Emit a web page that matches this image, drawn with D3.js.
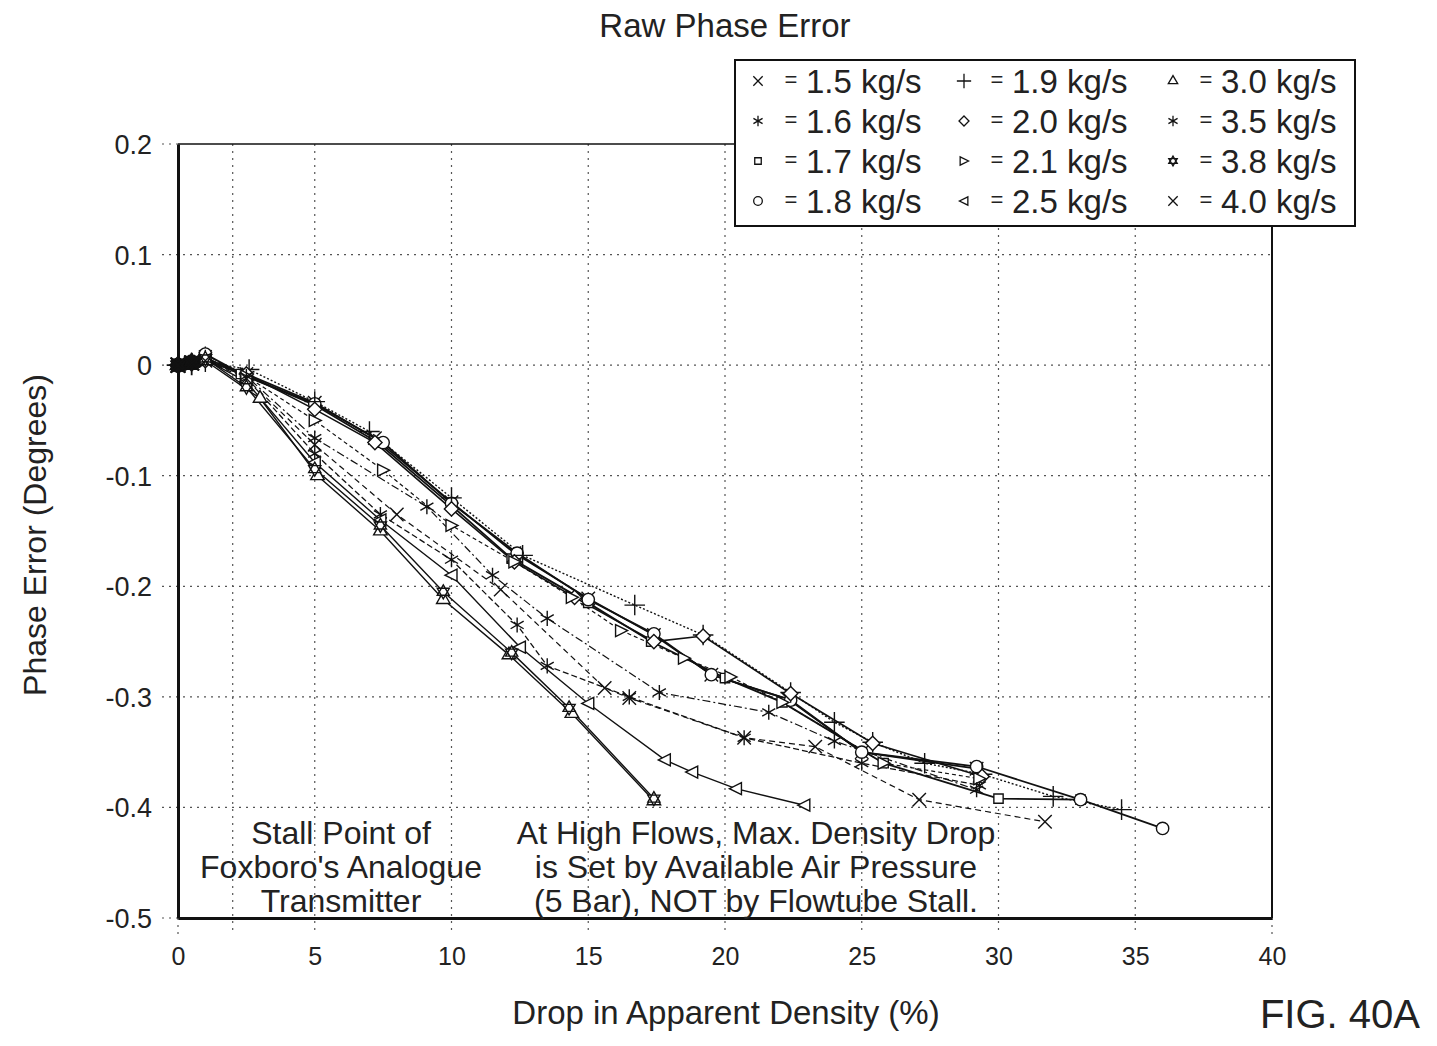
<!DOCTYPE html>
<html><head><meta charset="utf-8">
<script src="https://cdn.jsdelivr.net/npm/d3@7"></script>
<style>
html,body{margin:0;padding:0;background:#fff;}
text{font-family:"Liberation Sans",Arial,sans-serif;fill:#222;}
</style></head>
<body>
<svg id="chart" width="1437" height="1046"></svg>
<script>
// ---------- data ----------
const xTicks = [0,5,10,15,20,25,30,35,40];
const yTicks = [0.2,0.1,0,-0.1,-0.2,-0.3,-0.4,-0.5];
const xGrid = [2,5,10,15,20,25,30,35];
const yGrid = [0.1,0,-0.1,-0.2,-0.3,-0.4];
const flowLabels = ["1.5 kg/s","1.6 kg/s","1.7 kg/s","1.8 kg/s","1.9 kg/s","2.0 kg/s","2.1 kg/s","2.5 kg/s","3.0 kg/s","3.5 kg/s","3.8 kg/s","4.0 kg/s"];

const s15 = [[0,0],[0.5,0.002],[1,0.006],[2.5,-0.008],[5,-0.034],[7.2,-0.066],[10,-0.124],[12.3,-0.17],[15,-0.211],[17.4,-0.244],[19.5,-0.28],[22.3,-0.302],[25,-0.35],[29.2,-0.365]];
const s16 = [[0,0],[0.5,0.003],[1,0.01],[2.5,-0.012],[5,-0.08],[7.4,-0.135],[10,-0.176],[12.4,-0.235],[13.5,-0.272],[16.5,-0.3],[20.7,-0.337],[25,-0.36],[29.3,-0.38]];
const s17 = [[0,0],[0.5,0.001],[1,0.005],[2.3,-0.008],[5,-0.036],[7.3,-0.07],[10,-0.127],[12.2,-0.175],[15,-0.215],[17.3,-0.25],[20,-0.283],[22.1,-0.305],[25.8,-0.36],[30,-0.392],[33,-0.393]];
const s18 = [[0,0],[0.5,0.003],[1,0.01],[2.5,-0.01],[5,-0.035],[7.5,-0.07],[10,-0.125],[12.4,-0.17],[15,-0.212],[17.4,-0.243],[19.5,-0.28],[22.4,-0.303],[25,-0.35],[29.2,-0.363],[33,-0.393],[36,-0.419]];
const s19 = [[0,0],[0.5,0.001],[1,0.003],[2.6,-0.004],[5,-0.033],[7,-0.06],[10,-0.12],[12.6,-0.172],[16.7,-0.217],[19.2,-0.244],[22.4,-0.296],[24,-0.323],[25.4,-0.341],[27.3,-0.36],[29.4,-0.37],[32,-0.39],[34.5,-0.402]];
const s20 = [[0,0],[0.5,0.002],[1,0.004],[2.5,-0.008],[5,-0.04],[7.2,-0.07],[10,-0.13],[12.3,-0.178],[14.5,-0.21],[17.4,-0.25],[19.2,-0.245],[22.4,-0.297],[25.4,-0.342],[29.4,-0.372]];
const s21 = [[0,0],[0.5,0.002],[1,0.004],[2.5,-0.01],[5,-0.05],[7.5,-0.095],[10,-0.145],[12.3,-0.178],[14.4,-0.21],[16.2,-0.24],[18.5,-0.265],[20.2,-0.282],[22.1,-0.305],[25.8,-0.36],[29.3,-0.374]];
const s25 = [[0,0],[0.5,0.002],[1,0.005],[2.5,-0.015],[5,-0.088],[7.4,-0.14],[10,-0.19],[12.5,-0.255],[15,-0.306],[17.8,-0.357],[18.8,-0.368],[20.4,-0.383],[22.9,-0.398]];
const s30 = [[0,0],[0.5,0.002],[1,0.004],[3,-0.03],[5.1,-0.1],[7.4,-0.15],[9.7,-0.212],[12.1,-0.262],[14.4,-0.315],[17.4,-0.394]];
const s35 = [[0,0],[0.5,0.003],[1,0.007],[2.5,-0.01],[5,-0.066],[9.1,-0.128],[11.5,-0.19],[13.5,-0.229],[17.6,-0.296],[21.6,-0.314],[24,-0.34],[29.2,-0.384]];
const s38 = [[0,0],[0.5,0.003],[1,0.006],[2.5,-0.02],[5,-0.094],[7.4,-0.145],[9.7,-0.205],[12.2,-0.26],[14.3,-0.31],[17.4,-0.392]];
const s40 = [[0,0],[0.5,0.002],[1,0.004],[2.5,-0.012],[5,-0.072],[8,-0.135],[11.8,-0.203],[15.6,-0.292],[16.5,-0.301],[20.7,-0.337],[23.3,-0.345],[27.1,-0.393],[31.7,-0.413]];

const seriesData = [s15,s16,s17,s18,s19,s20,s21,s25,s30,s35,s38,s40];

// ---------- styles ----------
const markerKinds = ["times","filled","square","circle","plus","diamond","right","left","triangle","asterisk","hexagram","times"];
const dashes = [null,"6,3",null,null,"2,2",null,"4,3",null,null,"8,3,2,3",null,"6,4"];
const widths = [1.8,1.3,1.8,1.8,1.4,1.6,1.2,1.4,1.4,1.2,1.4,1.2];
const FONT = "Liberation Sans, Arial, sans-serif";

const svg = d3.select("#chart");
const x = d3.scaleLinear().domain([0,40]).range([178,1272]);
const y = d3.scaleLinear().domain([-0.5,0.2]).range([918,144]);

// title
svg.append("text").attr("x",725).attr("y",37).attr("text-anchor","middle").attr("font-size",33).text("Raw Phase Error");

// grid
svg.append("g").selectAll("line").data(xGrid).join("line")
  .attr("x1",d=>x(d)).attr("x2",d=>x(d)).attr("y1",y(0.2)).attr("y2",y(-0.5)+16)
  .attr("stroke","#555").attr("stroke-width",1.2).attr("stroke-dasharray","2,5");
svg.append("g").selectAll("line").data(yGrid).join("line")
  .attr("x1",x(0)-16).attr("x2",x(40)).attr("y1",d=>y(d)).attr("y2",d=>y(d))
  .attr("stroke","#555").attr("stroke-width",1.2).attr("stroke-dasharray","2,5");
svg.append("g").selectAll("line").data([0.2,-0.5]).join("line")
  .attr("x1",x(0)-16).attr("x2",x(0)).attr("y1",d=>y(d)).attr("y2",d=>y(d))
  .attr("stroke","#555").attr("stroke-width",1.2).attr("stroke-dasharray","2,5");
svg.append("g").selectAll("line").data([0,40]).join("line")
  .attr("x1",d=>x(d)).attr("x2",d=>x(d)).attr("y1",y(-0.5)).attr("y2",y(-0.5)+16)
  .attr("stroke","#555").attr("stroke-width",1.2).attr("stroke-dasharray","2,5");

// frame
svg.append("line").attr("x1",x(0)).attr("x2",x(40)).attr("y1",y(0.2)).attr("y2",y(0.2)).attr("stroke","#111").attr("stroke-width",1.5);
svg.append("line").attr("x1",x(40)).attr("x2",x(40)).attr("y1",y(0.2)).attr("y2",y(-0.5)).attr("stroke","#111").attr("stroke-width",2);

// axes via d3
const xAxis = d3.axisBottom(x).tickValues(xTicks).tickSize(0).tickPadding(29).tickFormat(d3.format("d"));
const yAxis = d3.axisLeft(y).tickValues(yTicks).tickSize(0).tickPadding(26)
  .tickFormat(d=>d===0?"0":d.toFixed(1));
const gx = svg.append("g").attr("transform",`translate(0,${y(-0.5)})`).call(xAxis);
const gy = svg.append("g").attr("transform",`translate(${x(0)},0)`).call(yAxis);
[gx,gy].forEach(g=>{
  g.select(".domain").attr("stroke","#111").attr("stroke-width",3);
  g.selectAll("text").attr("font-family",FONT).attr("fill","#333");
});
gx.selectAll("text").attr("font-size",25);
gy.selectAll("text").attr("font-size",27).attr("dy","0.35em");

// axis titles
svg.append("text").attr("transform","translate(46,535) rotate(-90)").attr("text-anchor","middle").attr("font-size",32).text("Phase Error (Degrees)");
svg.append("text").attr("x",726).attr("y",1024).attr("text-anchor","middle").attr("font-size",33).text("Drop in Apparent Density (%)");
svg.append("text").attr("x",1420).attr("y",1028).attr("text-anchor","end").attr("font-size",40).text("FIG. 40A");

// markers
function markerPath(kind, s){
  const r = s;
  const p = d3.path();
  switch(kind){
    case "times": return d3.symbol(d3.symbolTimes, r*r*1.2)();
    case "plus": return d3.symbol(d3.symbolPlus, r*r*1.4)();
    case "asterisk": return d3.symbol(d3.symbolAsterisk, r*r*1.6)();
    case "filled": return d3.symbol(d3.symbolAsterisk, r*r*1.6)();
    case "square": return d3.symbol(d3.symbolSquare2, r*r*1.1)();
    case "circle": return d3.symbol(d3.symbolCircle, r*r*1.2)();
    case "diamond": return d3.symbol(d3.symbolDiamond2, r*r*1.3)();
    case "triangle": return d3.symbol(d3.symbolTriangle2, r*r*1.3)();
    case "right": {
      p.moveTo(-r*0.55,-r*0.6); p.lineTo(r*0.65,0); p.lineTo(-r*0.55,r*0.6); p.closePath(); return p.toString();
    }
    case "left": {
      p.moveTo(r*0.55,-r*0.6); p.lineTo(-r*0.65,0); p.lineTo(r*0.55,r*0.6); p.closePath(); return p.toString();
    }
    case "hexagram": {
      const a = r*0.7;
      for(const off of [-Math.PI/2, Math.PI/2]){
        for(let i=0;i<3;i++){
          const t = off + i*2*Math.PI/3;
          const px = a*Math.cos(t), py = a*Math.sin(t);
          if(i===0) p.moveTo(px,py); else p.lineTo(px,py);
        }
        p.closePath();
      }
      return p.toString();
    }
  }
}

const line = d3.line().x(d=>x(d[0])).y(d=>y(d[1]));
const plot = svg.append("g");
seriesData.forEach((data,i)=>{
  plot.append("path").datum(data).attr("d",line).attr("fill","none")
    .attr("stroke","#111").attr("stroke-width",widths[i])
    .attr("stroke-dasharray",dashes[i]);
});
seriesData.forEach((data,i)=>{
  const kind = markerKinds[i];
  plot.append("g").selectAll("path").data(data.slice(2)).join("path")
    .attr("transform",d=>`translate(${x(d[0])},${y(d[1])})`)
    .attr("d",markerPath(kind,10))
    .attr("fill",kind==="filled"?"#111":"#fff")
    .attr("stroke","#111").attr("stroke-width",1.4);
});
seriesData.forEach((data,i)=>{
  plot.append("g").selectAll("path").data(data.slice(0,2)).join("path")
    .attr("transform",d=>`translate(${x(d[0])},${y(d[1])})`)
    .attr("d",markerPath(markerKinds[i],11))
    .attr("fill","#111").attr("stroke","#111").attr("stroke-width",1.8);
});

// annotations
const ann1 = ["Stall Point of","Foxboro's Analogue","Transmitter"];
const ann2 = ["At High Flows, Max. Density Drop","is Set by Available Air Pressure","(5 Bar), NOT by Flowtube Stall."];
ann1.forEach((t,i)=>svg.append("text").attr("x",341).attr("y",844+i*34).attr("text-anchor","middle").attr("font-size",32).text(t));
ann2.forEach((t,i)=>svg.append("text").attr("x",756).attr("y",844+i*34).attr("text-anchor","middle").attr("font-size",32).text(t));

// legend
const lg = svg.append("g");
lg.append("rect").attr("x",735).attr("y",60).attr("width",620).attr("height",166).attr("fill","#fff").attr("stroke","#111").attr("stroke-width",2);
const colX = [758,964,1173];
flowLabels.forEach((lab,i)=>{
  const c = Math.floor(i/4), r = i%4;
  const cx = colX[c], cy = 81 + r*40;
  lg.append("path").attr("transform",`translate(${cx},${cy})`).attr("d",markerPath(markerKinds[i],7))
    .attr("fill",markerKinds[i]==="filled"?"#111":"#fff").attr("stroke","#111").attr("stroke-width",1.3);
  lg.append("text").attr("x",cx+33).attr("y",cy+6).attr("text-anchor","middle").attr("font-size",22).attr("fill","#555").text("=");
  lg.append("text").attr("x",cx+48).attr("y",cy+12).attr("font-size",33).text(lab);
});
</script>
</body></html>
